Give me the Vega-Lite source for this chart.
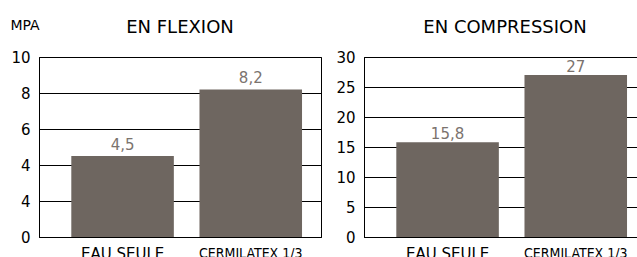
{
  "$schema": "https://vega.github.io/schema/vega-lite/v6.json",
  "padding": {"left": 10, "top": 18, "right": 0, "bottom": 0},
  "background": "white",
  "title": {"text": "MPA", "anchor": "start", "frame": "bounds", "fontSize": 14, "fontWeight": "normal", "color": "black", "offset": -14},
  "config": {
    "font": "DejaVu Sans",
    "view": {"stroke": "black", "strokeWidth": 1},
    "concat": {"spacing": 13},
    "axis": {
      "labelColor": "black",
      "domainColor": "black",
      "gridColor": "black",
      "gridOpacity": 1,
      "ticks": false
    }
  },
  "hconcat": [
    {
      "width": 282,
      "height": 180,
      "title": {"text": "EN FLEXION", "fontSize": 18, "fontWeight": "normal", "offset": 13, "color": "black"},
      "data": {"values": [
        {"cat": "EAU SEULE", "v": 4.5, "label": "4,5"},
        {"cat": "CERMILATEX 1/3", "v": 8.2, "label": "8,2"}
      ]},
      "encoding": {
        "x": {
          "field": "cat", "type": "nominal", "sort": null,
          "scale": {"paddingInner": 0.2, "paddingOuter": 0.2, "align": 0.63},
          "axis": {
            "title": null, "labelAngle": 0, "labelPadding": 9,
            "labelFontSize": {"condition": {"test": "datum.value == 'CERMILATEX 1/3'", "value": 14}, "value": 15},
            "labelFont": {"condition": {"test": "datum.value == 'CERMILATEX 1/3'", "value": "DejaVu Sans Condensed, Roboto"}, "value": "DejaVu Sans"},
            "grid": false
          }
        },
        "y": {
          "field": "v", "type": "quantitative",
          "scale": {"domain": [0, 10]},
          "axis": {
            "values": [0, 2, 4, 6, 8, 10],
            "labelExpr": "datum.value == 2 ? '4' : datum.label",
            "labelFontSize": 15, "labelPadding": 9, "grid": true, "title": null
          }
        }
      },
      "layer": [
        {"mark": {"type": "bar", "color": "#6e6660"}},
        {"mark": {"type": "text", "baseline": "alphabetic", "dy": -6, "fontSize": 15, "color": "#7b736e"},
         "encoding": {"text": {"field": "label"}}}
      ]
    },
    {
      "width": 282,
      "height": 180,
      "title": {"text": "EN COMPRESSION", "fontSize": 18, "fontWeight": "normal", "offset": 13, "color": "black"},
      "data": {"values": [
        {"cat": "EAU SEULE", "v": 15.8, "label": "15,8"},
        {"cat": "CERMILATEX 1/3", "v": 27, "label": "27"}
      ]},
      "encoding": {
        "x": {
          "field": "cat", "type": "nominal", "sort": null,
          "scale": {"paddingInner": 0.2, "paddingOuter": 0.2, "align": 0.63},
          "axis": {
            "title": null, "labelAngle": 0, "labelPadding": 9,
            "labelFontSize": {"condition": {"test": "datum.value == 'CERMILATEX 1/3'", "value": 14}, "value": 15},
            "labelFont": {"condition": {"test": "datum.value == 'CERMILATEX 1/3'", "value": "DejaVu Sans Condensed, Roboto"}, "value": "DejaVu Sans"},
            "grid": false
          }
        },
        "y": {
          "field": "v", "type": "quantitative",
          "scale": {"domain": [0, 30]},
          "axis": {
            "values": [0, 5, 10, 15, 20, 25, 30],
            "labelFontSize": 15, "labelPadding": 9, "grid": true, "title": null
          }
        }
      },
      "layer": [
        {"mark": {"type": "bar", "color": "#6e6660"}},
        {"mark": {"type": "text", "baseline": "alphabetic", "dy": -3, "fontSize": 15, "color": "#7b736e"},
         "encoding": {"text": {"field": "label"}}}
      ]
    }
  ]
}
